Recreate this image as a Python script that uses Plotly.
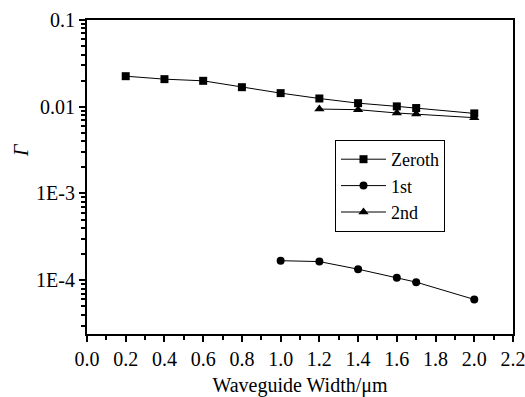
import plotly.graph_objects as go

x_zeroth = [0.2, 0.4, 0.6, 0.8, 1.0, 1.2, 1.4, 1.6, 1.7, 2.0]
y_zeroth = [0.0225, 0.0208, 0.0199, 0.0168, 0.01435, 0.01245, 0.0110, 0.0101, 0.00966, 0.00838]
x_first = [1.0, 1.2, 1.4, 1.6, 1.7, 2.0]
y_first = [1.68e-4, 1.64e-4, 1.34e-4, 1.07e-4, 9.5e-5, 6.0e-5]
x_second = [1.2, 1.4, 1.6, 1.7, 2.0]
y_second = [0.0094, 0.00925, 0.00847, 0.00824, 0.00748]

y_tickvals = [1e-4, 1e-3, 1e-2, 1e-1]
y_ticktext = ["1E-4", "1E-3", "0.01", "0.1"]
x_tickvals = [0.0, 0.2, 0.4, 0.6, 0.8, 1.0, 1.2, 1.4, 1.6, 1.8, 2.0, 2.2]

FAM = "Liberation Serif"
fnt = dict(family=FAM, size=20, color="black")
lfnt = dict(family=FAM, size=18, color="black")

fig = go.Figure()
fig.add_trace(go.Scatter(x=x_zeroth, y=y_zeroth, name="Zeroth", mode="lines+markers",
                         line=dict(color="black", width=1),
                         marker=dict(symbol="square", size=8, color="black")))
fig.add_trace(go.Scatter(x=x_first, y=y_first, name="1st", mode="lines+markers",
                         line=dict(color="black", width=1),
                         marker=dict(symbol="circle", size=8, color="black")))
fig.add_trace(go.Scatter(x=x_second, y=y_second, name="2nd", mode="lines+markers",
                         line=dict(color="black", width=1),
                         marker=dict(symbol="triangle-up", size=9, color="black")))

minor_y = []
for d in [1e-5, 1e-4, 1e-3, 1e-2]:
    for k in range(2, 10):
        minor_y.append(k * d)

W, H = 525, 397
ML, MR, MT, MB = 87, 12, 20, 63
PW, PH = W - ML - MR, H - MT - MB

def px(xp):
    return (xp - ML) / PW

def py(yp):
    return (H - MB - yp) / PH

fig.update_layout(
    template="simple_white",
    width=W, height=H,
    margin=dict(l=ML, r=MR, t=MT, b=MB, autoexpand=False),
    paper_bgcolor="white", plot_bgcolor="white",
    font=fnt,
    showlegend=True,
    legend=dict(x=px(335), y=py(140), xanchor="left", yanchor="top",
                bgcolor="white", bordercolor="black", borderwidth=1,
                font=lfnt, tracegroupgap=0, itemwidth=45),
    xaxis=dict(range=[0, 2.2], tickmode="array", tickvals=x_tickvals,
               ticktext=[f"{v:.1f}" for v in x_tickvals], tickfont=fnt,
               ticklabeloverflow="allow",
               ticks="outside", ticklen=6, tickwidth=1.5, tickcolor="black",
               showline=True, linecolor="black", linewidth=2, mirror=True,
               showgrid=False, zeroline=False, automargin=False,
               minor=dict(tickmode="array", tickvals=[0.1, 0.3, 0.5, 0.7, 0.9, 1.1, 1.3, 1.5, 1.7, 1.9, 2.1],
                          ticks="outside", ticklen=4, tickcolor="black", showgrid=False),
               title=dict(text="Waveguide Width/μm", font=fnt, standoff=14)),
    yaxis=dict(type="log", range=[-4.62, -1], tickmode="array", tickvals=y_tickvals,
               ticktext=y_ticktext, tickfont=fnt,
               ticklabeloverflow="allow",
               ticks="outside", ticklen=6, tickwidth=1.5, tickcolor="black",
               showline=True, linecolor="black", linewidth=2, mirror=True,
               showgrid=False, zeroline=False, automargin=False,
               minor=dict(tickmode="array", tickvals=minor_y,
                          ticks="outside", ticklen=4, tickcolor="black", showgrid=False)),
)

fig.add_annotation(text="<i>Γ</i>", xref="paper", yref="paper", x=px(21), y=py(150),
                   showarrow=False, textangle=-90, font=fnt,
                   xanchor="center", yanchor="middle")

fig.write_html("out.html")
